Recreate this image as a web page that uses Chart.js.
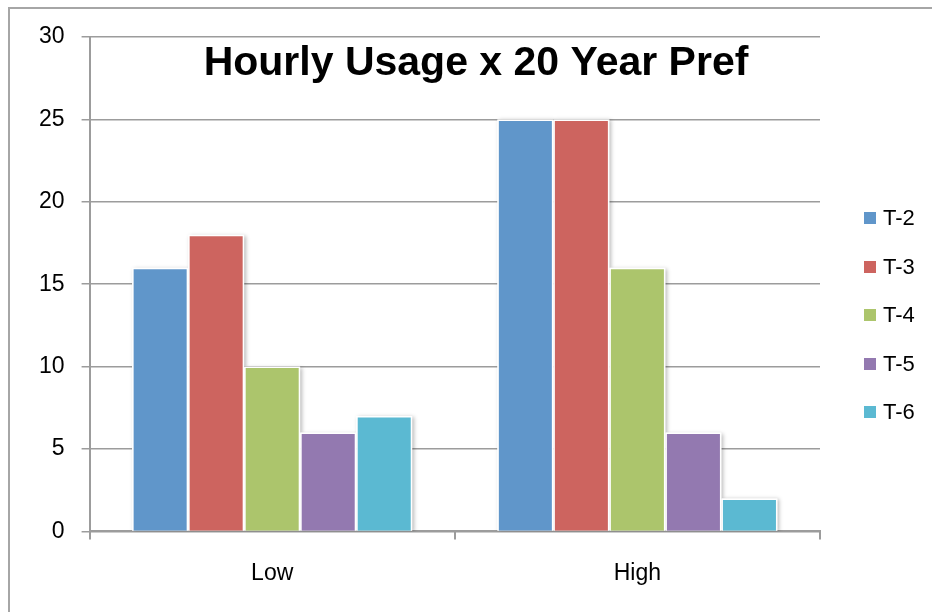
<!DOCTYPE html>
<html>
<head>
<meta charset="utf-8">
<script src="https://cdn.jsdelivr.net/npm/chart.js@4.4.0/dist/chart.umd.min.js"></script>
<style>
  html, body { margin: 0; padding: 0; background: #fff; }
  #wrap { position: relative; width: 932px; height: 612px; overflow: hidden; }
  #legend { position: absolute; left: 864px; top: 194px; font-family: "Liberation Sans", Arial, sans-serif; font-size: 22px; color: #000; }
  .item { height: 48.5px; display: flex; align-items: center; }
  .swatch { width: 12px; height: 12px; margin-right: 7px; }
</style>
</head>
<body>
<div id="wrap">
  <canvas id="chart" width="932" height="612"></canvas>
  <div id="legend"></div>
</div>
<script>
const chartTitle = 'Hourly Usage x 20 Year Pref';
const categories = ['Low', 'High'];
const seriesNames = ['T-2', 'T-3', 'T-4', 'T-5', 'T-6'];
const t2 = [16, 25];
const t3 = [18, 25];
const t4 = [10, 16];
const t5 = [6, 6];
const t6 = [7, 2];
const seriesColors = ['#6096ca', '#cd645f', '#acc56c', '#9379b0', '#5bb9d2'];
const yTicks = [0, 5, 10, 15, 20, 25, 30];

const seriesValues = [t2, t3, t4, t5, t6];
const gridGray = '#9c9c9c';

Chart.defaults.font.family = '"Liberation Sans", Arial, sans-serif';
Chart.defaults.font.size = 23;
Chart.defaults.color = '#000';

// outer frame of the chart (cut off at right and bottom, like the source)
const frame = {
  id: 'frame',
  beforeDraw(chart) {
    const ctx = chart.ctx;
    ctx.save();
    ctx.strokeStyle = '#a6a6a6';
    ctx.lineWidth = 2;
    ctx.strokeRect(9, 8, chart.width + 40, chart.height + 40);
    ctx.restore();
  }
};

// soft drop shadow behind each bar
const barShadow = {
  id: 'barShadow',
  beforeDatasetsDraw(chart) {
    const ctx = chart.ctx;
    const a = chart.chartArea;
    ctx.save();
    ctx.beginPath();
    ctx.rect(a.left, a.top - 10, a.right - a.left + 10, a.bottom - a.top + 10);
    ctx.clip();
    ctx.shadowColor = 'rgba(0,0,0,0.28)';
    ctx.shadowBlur = 4;
    ctx.shadowOffsetX = 2;
    ctx.shadowOffsetY = 1;
    ctx.fillStyle = '#fff';
    chart.data.datasets.forEach((ds, i) => {
      chart.getDatasetMeta(i).data.forEach(bar => {
        const p = bar.getProps(['x', 'y', 'base', 'width'], true);
        ctx.fillRect(p.x - p.width / 2, p.y, p.width, p.base - p.y);
      });
    });
    ctx.restore();
  }
};

// title sits inside the plot area
const insideTitle = {
  id: 'insideTitle',
  afterDraw(chart) {
    const ctx = chart.ctx;
    ctx.save();
    ctx.font = 'bold 41px "Liberation Sans", Arial, sans-serif';
    ctx.fillStyle = '#000';
    ctx.textAlign = 'center';
    ctx.textBaseline = 'alphabetic';
    ctx.fillText(chartTitle, 476, 75);
    ctx.restore();
  }
};

const chart = new Chart(document.getElementById('chart'), {
  type: 'bar',
  data: {
    labels: categories,
    datasets: seriesNames.map((name, i) => ({
      label: name,
      data: seriesValues[i],
      backgroundColor: seriesColors[i],
      borderColor: '#ffffff',
      borderWidth: 1.5,
      barPercentage: 1,
      categoryPercentage: 0.767
    }))
  },
  options: {
    responsive: false,
    animation: false,
    layout: {
      padding: { left: 22, top: 37, right: 112, bottom: 5 }
    },
    plugins: {
      legend: { display: false },
      title: { display: false },
      tooltip: { enabled: false }
    },
    scales: {
      x: {
        grid: {
          drawOnChartArea: false,
          drawTicks: true,
          tickLength: 8,
          color: gridGray,
          lineWidth: 2
        },
        border: { color: gridGray, width: 2 },
        ticks: { padding: 20 }
      },
      y: {
        min: 0,
        max: 30,
        afterBuildTicks: axis => {
          axis.ticks = yTicks.map(v => ({ value: v }));
        },
        grid: {
          color: gridGray,
          lineWidth: 1.5,
          tickLength: 8
        },
        border: { color: gridGray, width: 2 },
        ticks: { padding: 17 }
      }
    }
  },
  plugins: [frame, barShadow, insideTitle]
});

// legend built from the same series arrays
const legendEl = document.getElementById('legend');
seriesNames.forEach((name, i) => {
  const row = document.createElement('div');
  row.className = 'item';
  const sw = document.createElement('span');
  sw.className = 'swatch';
  sw.style.background = seriesColors[i];
  const txt = document.createElement('span');
  txt.textContent = name;
  row.appendChild(sw);
  row.appendChild(txt);
  legendEl.appendChild(row);
});
</script>
</body>
</html>
